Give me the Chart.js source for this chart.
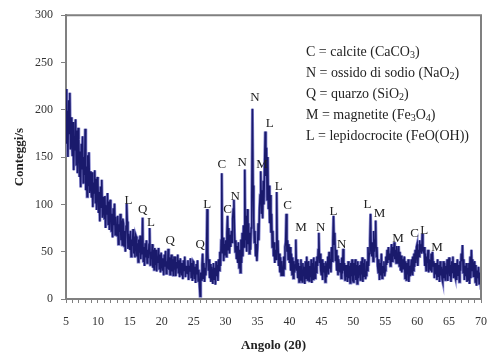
<!DOCTYPE html>
<html>
<head>
<meta charset="utf-8">
<script src="https://cdn.jsdelivr.net/npm/chart.js@4.4.0/dist/chart.umd.min.js"></script>
<style>
  html, body { margin: 0; padding: 0; background: #fff; }
</style>
</head>
<body>
<canvas id="xrdChart" width="499" height="353"></canvas>
<script>
// sampling grid of the scan (2theta)
const startAngle = 5;
const angleStep = 0.1;

// counts per second, 10 values per degree
const counts = [
  222, 164, 199, 150, 210, 175, 218, 158, 192, 168,   // 5
  151, 187, 136, 172, 157, 190, 142, 178, 133, 181,   // 6
  169, 129, 156, 118, 164, 137, 172, 123, 150, 131,   // 7
  180, 115, 140, 108, 152, 120, 155, 112, 135, 122,   // 8
  107, 134, 97, 123, 112, 136, 101, 127, 94, 129,     // 9
  124, 91, 113, 82, 119, 97, 126, 86, 108, 95,        // 10
  85, 109, 75, 99, 89, 112, 79, 103, 73, 105,         // 11
  99, 72, 90, 65, 96, 78, 101, 68, 87, 74,            // 12
  67, 88, 58, 79, 71, 90, 62, 83, 57, 85,             // 13
  80, 56, 72, 50, 77, 101, 82, 53, 69, 58,            // 14
  52, 72, 45, 63, 56, 74, 48, 66, 44, 68,             // 15
  66, 45, 59, 39, 63, 49, 67, 42, 56, 47,             // 16
  86, 40, 55, 35, 59, 44, 62, 38, 52, 43,             // 17
  58, 75, 36, 50, 42, 58, 33, 52, 31, 54,             // 18
  36, 52, 29, 45, 38, 54, 32, 47, 28, 49,             // 19
  49, 30, 43, 25, 47, 34, 51, 27, 40, 32,             // 20
  53, 31, 44, 26, 40, 47, 29, 42, 25, 45,             // 21
  31, 45, 24, 39, 33, 47, 27, 41, 23, 43,             // 22
  43, 25, 38, 21, 41, 30, 45, 23, 35, 28,             // 23
  27, 41, 20, 35, 29, 43, 23, 38, 19, 40,             // 24
  39, 22, 34, 17, 37, 26, 41, 19, 31, 15,             // 25
  3, 28, 20, 36, 48, 22, 38, 18, 33, 25,              // 26
  45, 95, 50, 30, 42, 22, 37, 18, 34, 26,             // 27
  16, 38, 21, 33, 15, 40, 24, 36, 19, 42,             // 28
  30, 50, 35, 62, 133, 48, 65, 40, 58, 46,            // 29
  62, 45, 70, 88, 52, 75, 48, 68, 55, 72,             // 30
  60, 85, 95, 105, 70, 50, 62, 42, 56, 38,            // 31
  60, 33, 52, 28, 63, 38, 70, 45, 78, 55,             // 32
  137, 62, 88, 50, 95, 58, 80, 48, 70, 52,            // 33
  75, 110, 201, 120, 85, 60, 72, 45, 58, 40,          // 34
  55, 80, 62, 95, 110, 135, 90, 115, 85, 125,         // 35
  100, 140, 177, 130, 160, 105, 150, 95, 120, 80,     // 36
  110, 70, 90, 55, 72, 45, 60, 38, 52, 42,            // 37
  113, 50, 62, 35, 48, 28, 44, 25, 40, 30,            // 38
  25, 45, 32, 55, 60, 90, 50, 62, 42, 58,             // 39
  38, 55, 30, 48, 26, 44, 22, 40, 28, 36,             // 40
  63, 30, 42, 22, 38, 18, 35, 20, 42, 24,             // 41
  18, 38, 24, 34, 16, 40, 22, 45, 20, 36,             // 42
  40, 19, 35, 23, 42, 17, 38, 21, 44, 26,             // 43
  22, 40, 28, 45, 35, 52, 70, 38, 48, 30,             // 44
  25, 42, 20, 38, 28, 35, 18, 40, 23, 37,             // 45
  45, 26, 50, 32, 42, 28, 55, 40, 62, 88,             // 46
  58, 70, 40, 52, 30, 46, 25, 42, 35, 28,             // 47
  38, 22, 44, 27, 53, 30, 38, 20, 36, 24,             // 48
  36, 18, 40, 22, 35, 17, 38, 24, 42, 20,             // 49
  18, 38, 25, 42, 20, 36, 16, 40, 22, 34,             // 50
  36, 20, 40, 26, 44, 18, 38, 24, 42, 21,             // 51
  25, 40, 30, 55, 35, 48, 62, 90, 55, 45,             // 52
  60, 40, 72, 50, 62, 83, 45, 55, 35, 28,             // 53
  42, 20, 38, 25, 48, 22, 35, 28, 40, 24,             // 54
  30, 45, 36, 52, 38, 55, 42, 48, 35, 50,             // 55
  58, 40, 55, 45, 60, 42, 52, 38, 56, 44,             // 56
  38, 56, 35, 50, 30, 46, 28, 42, 32, 40,             // 57
  45, 22, 40, 20, 38, 26, 42, 18, 35, 24,             // 58
  24, 42, 26, 45, 30, 48, 34, 52, 38, 55,             // 59
  58, 35, 52, 45, 62, 50, 58, 48, 69, 52,             // 60
  50, 55, 35, 48, 30, 45, 38, 52, 28, 42,             // 61
  42, 30, 48, 28, 50, 35, 40, 22, 38, 26,             // 62
  38, 20, 42, 24, 36, 18, 40, 25, 34, 21,             // 63
  18, 40, 22, 38, 20, 35, 26, 42, 19, 37,             // 64
  44, 24, 36, 18, 40, 28, 45, 22, 38, 25,             // 65
  22, 38, 20, 42, 25, 36, 18, 40, 30, 48,             // 66
  40, 57, 28, 42, 20, 35, 24, 38, 18, 33,             // 67
  20, 38, 16, 45, 22, 52, 30, 42, 24, 36,             // 68
  40, 18, 36, 14, 30, 22, 34, 16, 28, 20,             // 69
  10                                                  // 70
];

// phase letters placed over the peaks
const peakLetters = ["L", "Q", "L", "Q", "Q", "L", "C", "C", "N", "N", "N", "M", "L",
                     "L", "C", "M", "N", "L", "N", "L", "M", "M", "C", "L", "M"];
const peakAngles  = [14.8, 17.0, 18.3, 21.3, 26.0, 27.1, 29.4, 30.3, 31.5, 32.6, 34.6, 35.7, 36.9,
                     38.3, 39.7, 41.8, 44.9, 46.9, 48.2, 52.2, 54.1, 57.0, 59.6, 61.1, 63.1];
const peakTextY   = [104, 95, 81, 62, 57, 100, 142, 95, 108, 144, 213, 142, 185,
                     119, 99, 75, 76, 92, 58, 100, 90, 64, 69, 72, 54];

// legend text, "_n" marks a subscript digit
const legendLines = [
  "C = calcite (CaCO_3)",
  "N = ossido di sodio (NaO_2)",
  "Q = quarzo (SiO_2)",
  "M = magnetite (Fe_3O_4)",
  "L = lepidocrocite (FeO(OH))"
];

const serif = "'Liberation Serif', 'Times New Roman', serif";
const axisGray = "#808080";

const points = counts.map((c, i) => ({ x: +(startAngle + i * angleStep).toFixed(1), y: c }));

function drawSubText(ctx, str, x, y, size) {
  const parts = str.split(/(_\d)/);
  parts.forEach(p => {
    if (!p) return;
    if (p[0] === "_") {
      ctx.font = `${size - 4}px ${serif}`;
      ctx.fillText(p[1], x, y + 3);
      x += ctx.measureText(p[1]).width;
    } else {
      ctx.font = `${size}px ${serif}`;
      ctx.fillText(p, x, y);
      x += ctx.measureText(p).width;
    }
  });
}

const extrasPlugin = {
  id: "extras",
  afterDatasetsDraw(chart) {
    const { ctx, chartArea } = chart;
    const xs = chart.scales.x, ys = chart.scales.y;
    ctx.save();
    // frame top and right
    ctx.strokeStyle = axisGray;
    ctx.lineWidth = 2;
    ctx.beginPath();
    ctx.moveTo(chartArea.left, chartArea.top);
    ctx.lineTo(chartArea.right, chartArea.top);
    ctx.lineTo(chartArea.right, chartArea.bottom);
    ctx.stroke();

    // peak letters
    ctx.fillStyle = "#222";
    ctx.font = `13px ${serif}`;
    ctx.textAlign = "center";
    ctx.textBaseline = "middle";
    peakLetters.forEach((l, i) => {
      ctx.fillText(l, xs.getPixelForValue(peakAngles[i]), ys.getPixelForValue(peakTextY[i]));
    });

    // legend block
    ctx.textAlign = "left";
    legendLines.forEach((line, i) => {
      drawSubText(ctx, line, 306, 52 + i * 21, 14);
    });
    ctx.restore();
  }
};

new Chart(document.getElementById("xrdChart"), {
  type: "line",
  data: {
    datasets: [{
      data: points,
      borderColor: "#1a1a6c",
      borderWidth: 1.5,
      pointRadius: 0,
      tension: 0,
      order: 1
    }, {
      data: points,
      borderColor: "rgba(115, 115, 200, 0.9)",
      borderWidth: 3,
      pointRadius: 0,
      tension: 0,
      order: 2
    }]
  },
  options: {
    responsive: false,
    animation: false,
    layout: { padding: { left: 0, right: 9, top: 13, bottom: 0 } },
    plugins: {
      legend: { display: false },
      tooltip: { enabled: false }
    },
    scales: {
      x: {
        type: "linear",
        min: 5,
        max: 70,
        afterFit(scale) { scale.height = 54; },
        border: { display: true, color: axisGray, width: 2 },
        grid: { display: true, drawOnChartArea: false, drawTicks: true, tickLength: 4, color: axisGray },
        ticks: {
          stepSize: 1,
          autoSkip: false,
          maxRotation: 0,
          padding: 12,
          color: "#333",
          font: { family: serif, size: 12 },
          callback: v => (v % 5 === 0 ? String(v) : "")
        },
        title: {
          display: true,
          text: "Angolo (2θ)",
          color: "#222",
          font: { family: serif, size: 13, weight: "bold" },
          padding: { top: 0, bottom: 0 }
        }
      },
      y: {
        min: 0,
        max: 300,
        afterFit(scale) { scale.width = 66; },
        border: { display: true, color: axisGray, width: 2 },
        grid: { display: true, drawOnChartArea: false, drawTicks: true, tickLength: 5, color: axisGray },
        ticks: {
          stepSize: 50,
          padding: 8,
          color: "#333",
          font: { family: serif, size: 12 }
        },
        title: {
          display: true,
          text: "Conteggi/s",
          color: "#222",
          font: { family: serif, size: 13, weight: "bold" },
          padding: { top: 12, bottom: 0 }
        }
      }
    }
  },
  plugins: [extrasPlugin]
});
</script>
</body>
</html>
